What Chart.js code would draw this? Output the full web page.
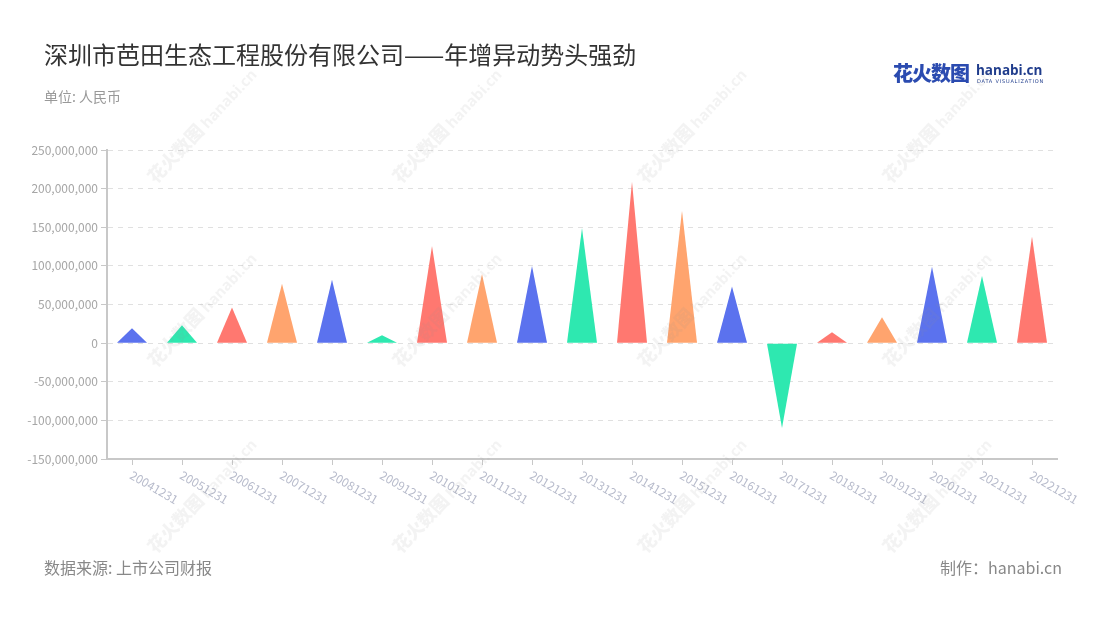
<!DOCTYPE html>
<html>
<head>
<meta charset="utf-8">
<script src="https://cdn.jsdelivr.net/npm/chart.js@4/dist/chart.umd.min.js"></script>
<style>
  html, body { margin: 0; padding: 0; background: #fff; }
  body { width: 1100px; height: 620px; position: relative; overflow: hidden;
         font-family: "Noto Sans CJK SC", "Noto Sans", sans-serif; }
  #wrap { position: absolute; left: 0; top: 0; width: 1100px; height: 620px; }
  .txt { position: absolute; white-space: nowrap; }
  #title { left: 44px; top: 36px; font-size: 24px; color: #333; }
  #unit { left: 44px; top: 86px; font-size: 14px; color: #999; }
  #source { left: 44px; top: 555px; font-size: 16px; color: #888; }
  #maker { right: 38px; top: 555px; font-size: 16px; color: #888; }
  #logo { left: 893px; top: 58px; }
  #logo .cn { font-size: 20px; font-weight: 900; color: #2b4bb0; letter-spacing: -1px; }
  #logo .en { position: absolute; left: 83px; top: 3px; font-size: 13.5px; font-weight: 700; color: #1f3c8c; font-family: "Open Sans", sans-serif; }
  #logo .sub { position: absolute; left: 84px; top: 20px; font-size: 5px; color: #1f3c8c; letter-spacing: 0.8px; font-family: "DejaVu Sans", sans-serif; }
  .wm { position: absolute; white-space: nowrap; transform-origin: 0 50%;
        transform: rotate(-47deg); color: rgba(150,150,150,0.11); pointer-events: none; }
  .wm b { font-size: 18px; font-weight: 900; }
  .wm i { font-style: normal; font-size: 15px; font-weight: 700; font-family: "Open Sans", sans-serif; }
</style>
</head>
<body>
<div id="wrap"><canvas id="chart" width="1100" height="620"></canvas></div>
<div class="txt" id="title">深圳市芭田生态工程股份有限公司——年增异动势头强劲</div>
<div class="txt" id="unit">单位: 人民币</div>
<div class="txt" id="logo"><span class="cn">花火数图</span><span class="en">hanabi.cn</span><span class="sub">DATA VISUALIZATION</span></div>
<div class="txt" id="source">数据来源: 上市公司财报</div>
<div class="txt" id="maker">制作：hanabi.cn</div>
<div id="marks"></div>
<script>
// 年报日期
const periods = ['20041231', '20051231', '20061231', '20071231', '20081231', '20091231',
    '20101231', '20111231', '20121231', '20131231', '20141231', '20151231', '20161231',
    '20171231', '20181231', '20191231', '20201231', '20211231', '20221231'];
// 数值（人民币）
const amounts = [19400000, 23300000, 46000000, 76700000, 81900000, 10300000,
    125800000, 89600000, 100000000, 148700000, 209000000, 171500000, 73200000,
    -110000000, 14200000, 33600000, 99000000, 87000000, 137900000];
// y 轴范围
const yMin = -150000000, yMax = 250000000, yStep = 50000000;

const palette = ['#5b72ee', '#2ee8b0', '#ff7870', '#ffa46e'];

// watermarks
const marks = document.getElementById('marks');
[150, 395, 640, 885].forEach(function(x) {
    [178, 362, 548].forEach(function(y) {
        const d = document.createElement('div');
        d.className = 'wm';
        d.style.left = x + 'px';
        d.style.top = (y - 12) + 'px';
        d.innerHTML = '<b>花火数图</b> <i>hanabi.cn</i>';
        marks.appendChild(d);
    });
});

// draw bars as triangles, and the slanted date labels
const trianglePlugin = {
    id: 'triangles',
    beforeDatasetDraw: function(chart, args) {
        const ctx = chart.ctx;
        args.meta.data.forEach(function(bar) {
            const p = bar.getProps(['x', 'y', 'base', 'width']);
            ctx.save();
            ctx.fillStyle = bar.options.backgroundColor;
            ctx.beginPath();
            ctx.moveTo(p.x - p.width / 2, p.base);
            ctx.lineTo(p.x, p.y);
            ctx.lineTo(p.x + p.width / 2, p.base);
            ctx.closePath();
            ctx.fill();
            ctx.restore();
        });
        return false;
    },
    afterDraw: function(chart) {
        const ctx = chart.ctx, xs = chart.scales.x;
        ctx.save();
        ctx.font = '12px "Noto Sans CJK SC", sans-serif';
        ctx.fillStyle = '#b8bccc';
        ctx.textAlign = 'left';
        ctx.textBaseline = 'middle';
        periods.forEach(function(label, i) {
            ctx.save();
            ctx.translate(xs.getPixelForTick(i) - 1, xs.top + 15);
            ctx.rotate(30 * Math.PI / 180);
            ctx.fillText(label, 0, 0);
            ctx.restore();
        });
        ctx.restore();
    }
};

new Chart(document.getElementById('chart'), {
    type: 'bar',
    data: {
        labels: periods,
        datasets: [{
            data: amounts,
            backgroundColor: amounts.map(function(v, i) { return palette[i % 4]; }),
            barPercentage: 0.6,
            categoryPercentage: 1.0
        }]
    },
    options: {
        responsive: false,
        animation: false,
        layout: { padding: { top: 150, bottom: 155, left: 0, right: 43 } },
        plugins: { legend: { display: false }, tooltip: { enabled: false } },
        scales: {
            x: {
                afterFit: function(scale) { scale.height = 6; },
                ticks: { display: false },
                grid: { drawOnChartArea: false, drawTicks: true, tickLength: 6,
                        tickColor: '#c8c8c8', tickWidth: 1, offset: false },
                border: { display: true, color: '#c8c8c8', width: 2 }
            },
            y: {
                min: yMin,
                max: yMax,
                afterFit: function(scale) { scale.width = 107; },
                ticks: {
                    stepSize: yStep,
                    padding: 3,
                    color: '#a6a6a6',
                    font: { size: 12, family: '"Noto Sans CJK SC", sans-serif' },
                    callback: function(v) { return v.toLocaleString('en-US'); }
                },
                grid: { color: '#e0e0e0', tickLength: 6, tickColor: '#c8c8c8',
                        tickBorderDash: [], lineWidth: 1 },
                border: { display: true, color: '#c8c8c8', width: 2, dash: [5, 5] }
            }
        }
    },
    plugins: [trianglePlugin]
});
</script>
</body>
</html>
